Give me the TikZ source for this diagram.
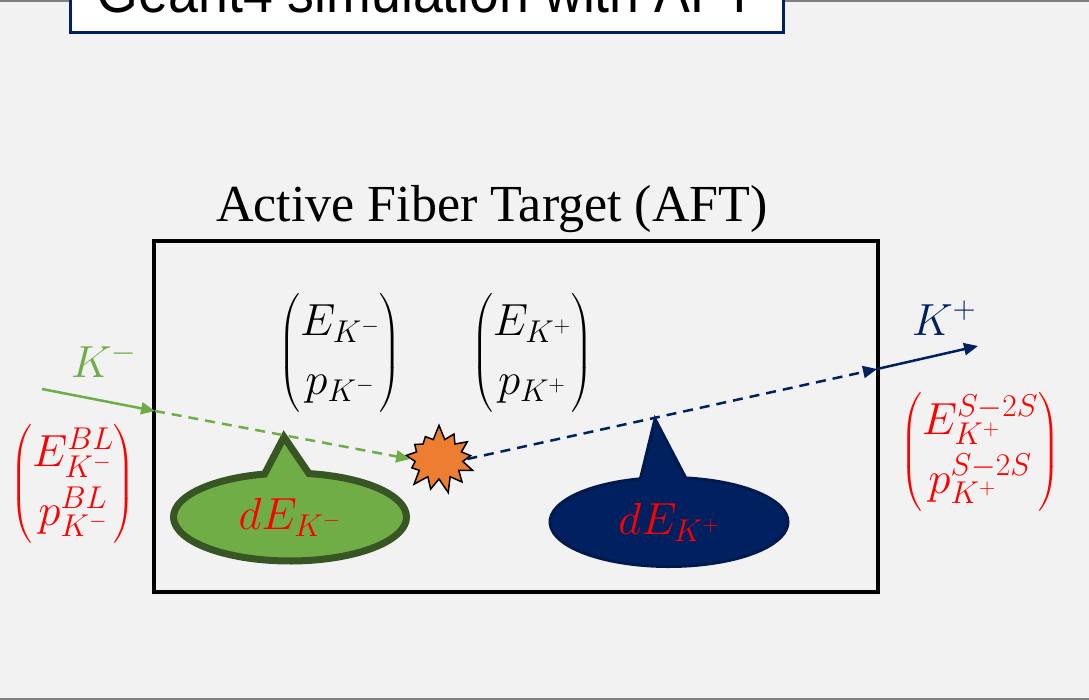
\RequirePackage{fix-cm}
\documentclass[tikz,border=0pt]{standalone}
\usepackage{amsmath}
\usepackage{fontspec}
\usetikzlibrary{shapes.callouts,shapes.symbols,arrows.meta}

\newfontfamily\titlefont[FakeStretch=0.88]{Liberation Sans}
\newfontfamily\aftfont{Liberation Serif}

\definecolor{kmgreen}{HTML}{70AD47}
\definecolor{kmdark}{HTML}{375623}
\definecolor{kpblue}{HTML}{002060}
\definecolor{vtxorange}{HTML}{ED7D31}
\definecolor{slidegray}{HTML}{F2F2F2}

\tikzset{
    mathlbl/.style={inner sep=0pt, font=\fontsize{45}{59}\selectfont},
    tiparrow/.style={-{Triangle[length=14pt,width=12pt]}, line width=2.5pt},
    dashline/.style={dash pattern=on 10pt off 7pt}
}

\begin{document}
\begin{tikzpicture}[x=1pt, y=-1pt]
    \clip (0, 0) rectangle (1089, 700);
    \fill[slidegray] (0, 0) rectangle (1089, 700);
    \draw[gray, line width=3pt] (0, 1) -- (1089, 1);
    \draw[gray, line width=2pt] (0, 699) -- (1089, 699);

    \node (TitleBox) [anchor=south, draw=kpblue, line width=3pt, fill=white, minimum width=713pt,
        inner ysep=20pt, text depth=0pt, font=\titlefont\fontsize{61}{64}\selectfont]
        at (426.5, 34) {Geant4 simulation with AFT};

    \node (AFT_T) [anchor=base, font=\aftfont\fontsize{52}{56}\selectfont] at (492, 222) {Active Fiber Target (AFT)};
    \node (AFT) [draw=black, line width=4pt, minimum width=724pt, minimum height=351pt] at (516, 416.5) {};

    \begin{scope}[every node/.style={mathlbl}]
        \node (M_1) at (340, 353) {$\begin{pmatrix}E_{K^-}\\ p_{K^-}\end{pmatrix}$};
        \node (M_2) at (532, 353) {$\begin{pmatrix}E_{K^+}\\ p_{K^+}\end{pmatrix}$};

        \node (BL) [text=red] at (73, 484) {$\begin{pmatrix}E_{K^-}^{BL}\\ p_{K^-}^{BL}\end{pmatrix}$};  % beam line
        \node (SS) [text=red] at (980, 452) {$\begin{pmatrix}E_{K^+}^{S-2S}\\ p_{K^+}^{S-2S}\end{pmatrix}$};  % S-2S spectrometer

        \node (L_Km) [text=kmgreen] at (104, 360) {$K^-$};
        \node (L_Kp) [text=kpblue] at (944, 318) {$K^+$};
    \end{scope}

    % dE callouts
    \node (dE_1) [ellipse callout, fill=kmgreen, draw=kmdark, line width=7pt, minimum width=233pt, minimum height=88pt,
        callout absolute pointer={(284, 437)}, callout pointer arc=22, mathlbl, text=red] at (290, 517) {$dE_{K^-}$};
    \node (dE_2) [ellipse callout, fill=kpblue, draw=kpblue!80!black, line width=3pt, minimum width=238pt, minimum height=89pt,
        callout absolute pointer={(655, 419)}, callout pointer arc=22, mathlbl, text=red] at (669, 522) {$dE_{K^+}$};

    \node (Vtx) [starburst, starburst points=13, starburst point height=15pt, random starburst=7, fill=vtxorange, draw=black,
        line width=1.5pt, minimum width=78pt, minimum height=70pt, inner sep=0pt] at (439, 459) {};

    \coordinate (In_K) at (42, 389);
    \coordinate (Entry) at (155, 411);
    \coordinate (Exit) at (877, 369);
    \coordinate (Out_K) at (978, 346);

    \begin{scope}[every edge/.style={draw, tiparrow}]
        \path (In_K) edge[kmgreen] (Entry);
        \path (Entry) edge[kmgreen, dashline] (Vtx.west);
        \path (Vtx.east) edge[kpblue, dashline] (Exit);
        \path (Exit) edge[kpblue] (Out_K);
    \end{scope}
\end{tikzpicture}
\end{document}
